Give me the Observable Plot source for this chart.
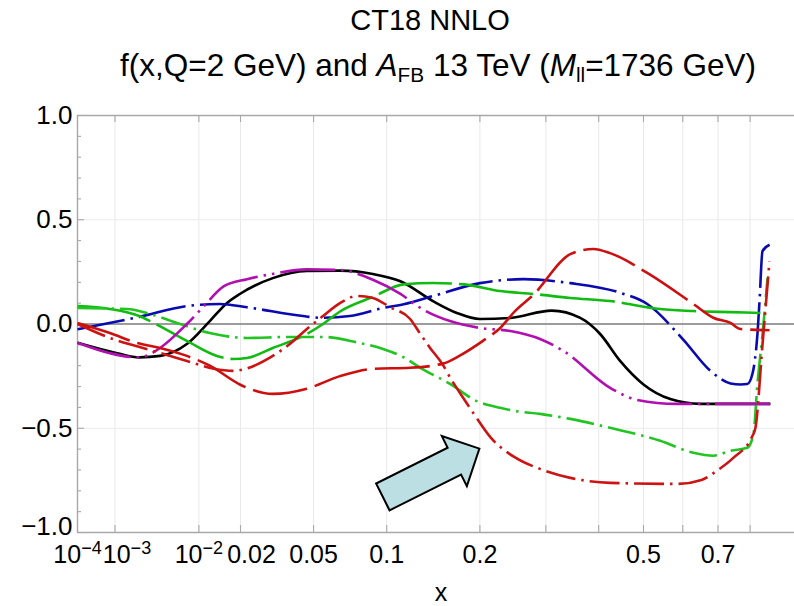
<!DOCTYPE html>
<html>
<head>
<meta charset="utf-8">
<script src="https://cdn.jsdelivr.net/npm/d3@7"></script>
<script src="https://cdn.jsdelivr.net/npm/@observablehq/plot@0.6"></script>
<style>
  body { margin: 0; background: #fff; }
  #wrap { position: relative; width: 794px; height: 606px; overflow: hidden; background: #fff;
          font-family: "Liberation Sans", Arial, Helvetica, sans-serif; color: #000; }
  #wrap svg { position: absolute; left: 0; top: 0; }
  .txt { position: absolute; white-space: nowrap; transform: translateX(-50%); line-height: 1; }
  .sub { font-size: 0.66em; vertical-align: -0.3em; }
</style>
</head>
<body>
<div id="wrap">
  <div class="txt" id="t1" style="left:430px; top:6px; font-size:29px;">CT18 NNLO</div>
  <div class="txt" id="t2" style="left:438px; top:50px; font-size:31.5px;">f(x,Q=2 GeV) and <i>A</i><span class="sub">FB</span> 13 TeV (<i>M</i><span class="sub">ll</span>=1736 GeV)</div>
  <div class="txt" id="xl" style="left:441px; top:580px; font-size:25px;">x</div>
</div>
<script>
// ---- axis ticks ----
const xTicksLabeled = [1e-4, 1e-3, 1e-2, 0.02, 0.05, 0.1, 0.2, 0.5, 0.7];
const xTicksFrame   = [1e-3, 1e-2, 0.02, 0.05, 0.1, 0.2, 0.3, 0.4, 0.5, 0.6, 0.7, 0.8];
const yTicksLabeled = [-1, -0.5, 0, 0.5, 1];
const yTicksMajor   = [-0.5, 0, 0.5];
const yTicksMinor   = [-0.9, -0.8, -0.7, -0.6, -0.4, -0.3, -0.2, -0.1, 0.1, 0.2, 0.3, 0.4, 0.6, 0.7, 0.8, 0.9];
const yGrid         = [-0.5, 0.5];
// labels that are nudged so they do not collide with their neighbours
const xLabelNudge   = {"10^-3": 12, "0.02": 11};
const yLabelNudge   = {"\u22121.0": -6};

// ---- correlation curves, [x, value] ----
const black = [[1e-4,-0.09],[0.0011,-0.14],[0.0024,-0.16],[0.0043,-0.153],[0.0079,-0.096],[0.0122,0.014],
  [0.0162,0.10],[0.0198,0.144],[0.0311,0.22],[0.0465,0.254],[0.0655,0.256],[0.0888,0.24],[0.112,0.205],
  [0.144,0.11],[0.171,0.053],[0.200,0.024],[0.243,0.029],[0.31,0.064],[0.363,0.029],[0.403,-0.048],
  [0.446,-0.177],[0.50,-0.29],[0.567,-0.36],[0.649,-0.383],[0.868,-0.383]];

const blue = [[1e-4,-0.025],[0.0024,0.034],[0.0079,0.086],[0.0145,0.096],[0.022,0.08],[0.0445,0.038],
  [0.0535,0.03],[0.072,0.038],[0.097,0.077],[0.115,0.095],[0.144,0.134],[0.200,0.196],[0.263,0.215],
  [0.344,0.196],[0.446,0.15],[0.509,0.096],[0.60,-0.072],[0.678,-0.225],[0.738,-0.285],[0.77,-0.29],
  [0.791,-0.288],[0.8075,-0.24],[0.814,-0.19],[0.824,-0.05],[0.831,0.11],[0.841,0.35],[0.865,0.38]];

const greenSolid = [[1e-4,0.086],[0.0008,0.072],[0.0024,0.038],[0.0033,0.014],[0.0079,-0.081],[0.0138,-0.153],
  [0.018,-0.168],[0.022,-0.163],[0.0311,-0.115],[0.0465,-0.048],[0.0552,0.0],[0.0655,0.06],[0.0888,0.13],
  [0.115,0.19],[0.144,0.197],[0.18,0.19],[0.228,0.158],[0.279,0.144],[0.344,0.125],[0.424,0.11],
  [0.541,0.072],[0.629,0.062],[0.738,0.057],[0.834,0.053]];

const greenDashDot = [[1e-4,0.077],[0.0016,0.072],[0.0033,0.048],[0.0064,0.005],[0.0122,-0.043],[0.022,-0.067],
  [0.0383,-0.062],[0.0552,-0.062],[0.077,-0.088],[0.097,-0.12],[0.115,-0.16],[0.131,-0.21],[0.163,-0.287],
  [0.196,-0.37],[0.228,-0.402],[0.25,-0.417],[0.29,-0.431],[0.344,-0.455],[0.424,-0.498],[0.541,-0.56],
  [0.629,-0.618],[0.686,-0.632],[0.738,-0.608],[0.791,-0.594],[0.811,-0.527],[0.824,-0.29],[0.841,-0.05],
  [0.858,0.22]];

const magenta = [[1e-4,-0.09],[0.0008,-0.14],[0.0022,-0.16],[0.0030,-0.152],[0.0043,-0.115],[0.0079,0.0],
  [0.011,0.086],[0.0154,0.18],[0.022,0.215],[0.031,0.24],[0.0465,0.262],[0.0655,0.259],[0.0888,0.212],
  [0.112,0.144],[0.131,0.077],[0.163,0.014],[0.200,-0.019],[0.243,-0.034],[0.29,-0.072],[0.331,-0.129],
  [0.424,-0.306],[0.485,-0.364],[0.585,-0.383],[0.868,-0.383]];

const redDash = [[1e-4,0.005],[0.0008,-0.043],[0.0022,-0.09],[0.0043,-0.115],[0.0079,-0.153],[0.0122,-0.2],
  [0.0198,-0.29],[0.0219,-0.305],[0.0311,-0.335],[0.0465,-0.31],[0.0655,-0.25],[0.0888,-0.215],[0.121,-0.21],
  [0.155,-0.19],[0.174,-0.153],[0.204,-0.081],[0.228,-0.019],[0.25,0.062],[0.279,0.14],[0.344,0.335],
  [0.389,0.36],[0.424,0.34],[0.509,0.245],[0.629,0.096],[0.686,0.03],[0.738,0.005],[0.769,-0.024],[0.865,-0.03]];

const redDashDot = [[1e-4,0.0],[0.0008,-0.067],[0.0036,-0.129],[0.0079,-0.177],[0.0131,-0.215],[0.018,-0.225],
  [0.0215,-0.215],[0.0311,-0.153],[0.0383,-0.096],[0.0465,-0.024],[0.0552,0.038],[0.0655,0.10],[0.077,0.134],
  [0.0888,0.125],[0.103,0.08],[0.121,0.024],[0.131,-0.048],[0.141,-0.115],[0.154,-0.19],[0.165,-0.27],
  [0.178,-0.35],[0.192,-0.43],[0.215,-0.546],[0.25,-0.64],[0.29,-0.695],[0.344,-0.738],[0.424,-0.762],
  [0.585,-0.767],[0.652,-0.748],[0.70,-0.70],[0.7466,-0.642],[0.8075,-0.537],[0.8175,-0.498],[0.841,-0.098],
  [0.8645,0.30]];

// tip of the highlighting arrow, in data coordinates
const arrowTip = [0.2, -0.6];

// ---- layout ----
const W = 794, H = 606;
const mTop = 115, mBottom = 74, mLeft = 77, mRight = 0;
const frameW = W - mLeft - mRight, frameH = H - mTop - mBottom;
const frameColor = "#a8a8a8";

const lineStyle = (stroke, dash) => ({stroke, strokeWidth: 2.6, strokeDasharray: dash,
  strokeLinecap: "butt", strokeLinejoin: "round", curve: "monotone-x"});

// block arrow drawn around the tip position given by the scales
function arrowMark(index, scales) {
  const px = scales.x(arrowTip[0]), py = scales.y(arrowTip[1]);
  const L = 108, hl = 28, hw = 28, sw = 15, ang = Math.atan2(-1, 2);
  const c = Math.cos(ang), s = Math.sin(ang);
  const local = [[0,0],[-hl,-hw],[-hl,-sw],[-L,-sw],[-L,sw],[-hl,sw],[-hl,hw]];
  const pts = local.map(([u, v]) => [px + u * c - v * s, py + u * s + v * c]);
  const path = document.createElementNS("http://www.w3.org/2000/svg", "path");
  path.setAttribute("d", d3.line()(pts) + "Z");
  path.setAttribute("fill", "#bcdfe3");
  path.setAttribute("stroke", "#000");
  path.setAttribute("stroke-width", "2");
  path.setAttribute("stroke-linejoin", "miter");
  return path;
}

const fmtX = d => d <= 0.01 ? `10^${Math.round(Math.log10(d))}` : String(d);

const plot = Plot.plot({
  width: W, height: H,
  marginTop: mTop, marginBottom: mBottom, marginLeft: mLeft, marginRight: mRight,
  style: {fontFamily: '"Liberation Sans", Arial, Helvetica, sans-serif', fontSize: "26px",
          background: "transparent", color: "#000"},
  x: {type: "pow", exponent: 0.35, domain: [1e-4, 0.953], label: null},
  y: {domain: [-1, 1], label: null},
  marks: [
    // light grid
    Plot.ruleX(xTicksFrame, {stroke: "#e9e9e9", strokeWidth: 1}),
    Plot.ruleY(yGrid, {stroke: "#ececec", strokeWidth: 1}),
    // frame (open on the right) and inward ticks
    Plot.ruleY([-1, 1], {stroke: frameColor, strokeWidth: 1.4}),
    Plot.ruleX([1e-4], {stroke: frameColor, strokeWidth: 1.4}),
    Plot.ruleX(xTicksFrame, {insetTop: frameH - 7, stroke: frameColor, strokeWidth: 1.1}),
    Plot.ruleX(xTicksFrame, {insetBottom: frameH - 7, stroke: frameColor, strokeWidth: 1.1}),
    Plot.ruleY(yTicksMajor, {insetRight: frameW - 7, stroke: frameColor, strokeWidth: 1.1}),
    Plot.ruleY(yTicksMinor, {insetRight: frameW - 4, stroke: frameColor, strokeWidth: 1.1}),
    // zero line
    Plot.ruleY([0], {stroke: "#9c9c9c", strokeWidth: 2}),
    // tick labels
    Plot.axisX({ticks: xTicksLabeled, tickSize: 0, tickPadding: 13, fontSize: 25, tickFormat: fmtX, label: null}),
    Plot.axisY({ticks: yTicksLabeled, tickSize: 0, tickPadding: 5, fontSize: 26, tickFormat: d3.format(".1f"), label: null}),
    // curves
    Plot.line(black, lineStyle("#000000", null)),
    Plot.line(blue, lineStyle("#0a0ab0", "48,6,2.5,6")),
    Plot.line(greenSolid, lineStyle("#12bb12", "75,7")),
    Plot.line(greenDashDot, lineStyle("#22c422", "28,6,2.5,6")),
    Plot.line(magenta, lineStyle("#b010b0", "55,6,2.5,6,2.5,6")),
    Plot.line(redDash, lineStyle("#cc1010", "55,8")),
    Plot.line(redDashDot, lineStyle("#cc1414", "30,6,2.5,6")),
    arrowMark
  ]
});

const shift = (t, dx, dy) => {
  const tr = t.getAttribute("transform") || "";
  t.setAttribute("transform", (tr + ` translate(${dx},${dy})`).trim());
};

// powers of ten get a raised exponent; crowded labels are nudged
plot.querySelectorAll('g[aria-label="x-axis tick label"] text').forEach(t => {
  const s = t.textContent;
  const nudge = xLabelNudge[s];
  const m = /^10\^(-?\d+)$/.exec(s);
  if (m) {
    t.textContent = "10";
    const sup = document.createElementNS("http://www.w3.org/2000/svg", "tspan");
    sup.setAttribute("dy", "-0.5em");
    sup.setAttribute("font-size", "0.72em");
    sup.textContent = m[1].replace("-", "\u2212");
    t.appendChild(sup);
  }
  if (nudge) shift(t, nudge, 0);
});
plot.querySelectorAll('g[aria-label="y-axis tick label"] text').forEach(t => {
  const nudge = yLabelNudge[t.textContent];
  if (nudge) shift(t, 0, nudge);
});

document.getElementById("wrap").prepend(plot);
</script>
</body>
</html>
